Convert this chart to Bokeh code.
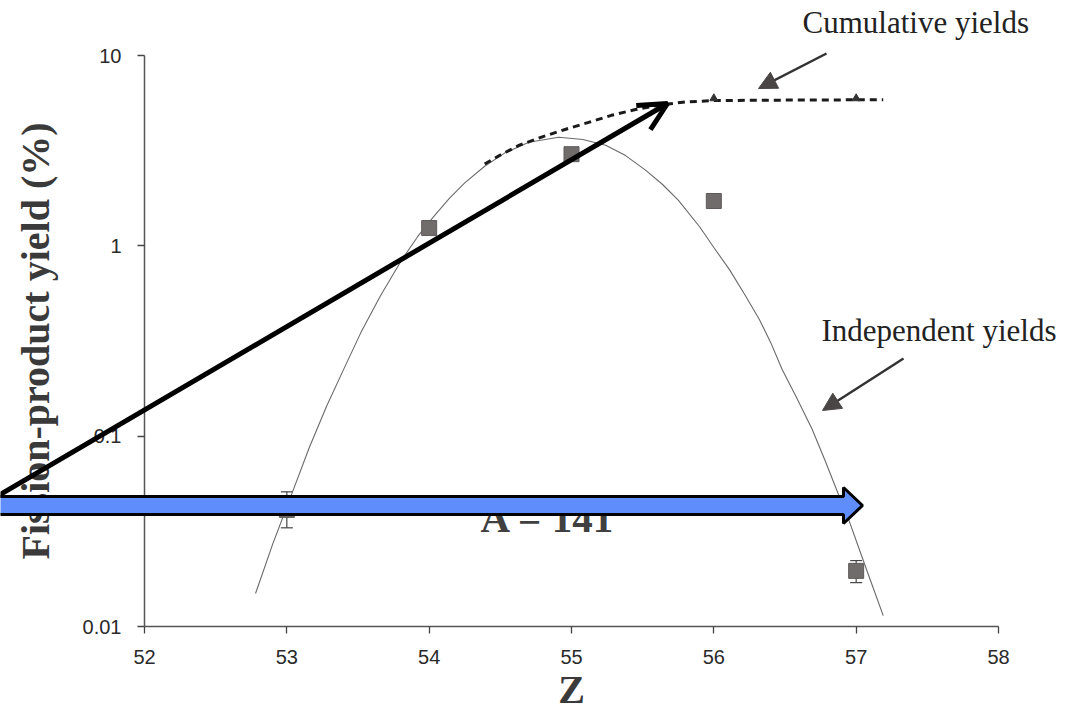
import math
from bokeh.plotting import figure
from bokeh.models import (FixedTicker, Whisker, ColumnDataSource, Arrow, OpenHead,
                          NormalHead, Label, PolyAnnotation, TeeHead)
from bokeh.embed import file_html
from bokeh.resources import INLINE

# ---- data ----
z_points = [53, 54, 55, 56, 57]
indep_yield = [0.041, 1.24, 3.03, 1.72, 0.0196]

err_z = [53, 57]
err_lo = [0.033, 0.0170]
err_hi = [0.051, 0.0222]

fit_z = [52.78, 52.9, 53.04, 53.16, 53.28, 53.4, 53.52, 53.66, 53.81, 53.92, 54.03, 54.14,
         54.25, 54.39, 54.53, 54.7, 54.91, 55.08, 55.24, 55.38, 55.52, 55.64, 55.75, 55.9,
         56.0, 56.11, 56.22, 56.32, 56.4, 56.48, 56.58, 56.69, 56.78, 56.88, 56.95, 57.02,
         57.1, 57.19]
fit_y = [0.0149, 0.027, 0.051, 0.088, 0.144, 0.225, 0.35, 0.55, 0.85, 1.12, 1.42, 1.77,
         2.14, 2.62, 3.07, 3.5, 3.72, 3.62, 3.38, 2.98, 2.5, 2.1, 1.74, 1.26,
         0.98, 0.75, 0.55, 0.41, 0.31, 0.224, 0.16, 0.109, 0.075, 0.0485, 0.036, 0.0257,
         0.0175, 0.0114]

cum_z = [54.39, 54.5, 54.63, 54.8, 54.96, 55.12, 55.28, 55.45, 55.62, 55.8, 56.0, 56.5, 57.0, 57.19]
cum_y = [2.69, 3.0, 3.37, 3.75, 4.1, 4.45, 4.85, 5.2, 5.5, 5.7, 5.8, 5.83, 5.85, 5.85]

cum_mark_z = [56, 57]
cum_mark_y = [5.95, 5.95]

x_ticks = [52, 53, 54, 55, 56, 57, 58]
y_ticks = [0.01, 0.1, 1, 10]
y_tick_labels = ["0.01", "0.1", "1", "10"]

# ---- layout: the frame covers the whole canvas so the overlay arrows are not clipped;
#      the axes are drawn at fixed data locations with bounds ----
W, H = 1074, 718
FX0, FX1 = 144, 998      # pixel columns of Z = 52 and Z = 58
FY0, FY1 = 55, 626       # pixel rows of 10 % and 0.01 %
xmin, xmax = x_ticks[0], x_ticks[-1]
ppx = (FX1 - FX0) / (xmax - xmin)
x_start = xmin - FX0 / ppx
x_end = xmax + (W - FX1) / ppx
ppd = (FY1 - FY0) / 3.0
y_end = 10 ** (1 + FY0 / ppd)
y_start = 10 ** (-2 - (H - FY1) / ppd)

p = figure(width=W, height=H, x_range=(x_start, x_end), y_range=(y_start, y_end),
           y_axis_type="log", output_backend="svg", toolbar_location=None,
           min_border=0, min_border_left=0, min_border_right=0, min_border_top=0,
           min_border_bottom=0)
p.outline_line_color = None
p.grid.visible = False
p.background_fill_color = "white"
p.border_fill_color = "white"

for ax in (p.xaxis[0], p.yaxis[0]):
    ax.axis_line_color = "#555555"
    ax.axis_line_width = 1.5
    ax.major_tick_line_color = "#444444"
    ax.major_tick_line_width = 1.3
    ax.major_tick_in = 0
    ax.major_tick_out = 7
    ax.minor_tick_line_color = None
    ax.major_label_text_font = "Liberation Sans"
    ax.major_label_text_font_size = "20px"
    ax.major_label_text_color = "#2a2a2a"
    ax.axis_label_text_font = "Liberation Serif"
    ax.axis_label_text_font_style = "bold"
    ax.axis_label_text_color = "#3a3a3a"

p.xaxis.fixed_location = y_ticks[0]
p.xaxis.bounds = (xmin, xmax)
p.xaxis.ticker = FixedTicker(ticks=x_ticks)
p.xaxis.major_label_standoff = 16
p.xaxis.axis_label = "Z"
p.xaxis.axis_label_text_font_size = "40px"
p.xaxis.axis_label_standoff = 0

p.yaxis.fixed_location = xmin
p.yaxis.bounds = (y_ticks[0], y_ticks[-1])
p.yaxis.ticker = FixedTicker(ticks=y_ticks)
p.yaxis.major_label_overrides = {t: l for t, l in zip(y_ticks, y_tick_labels)}
p.yaxis.major_label_standoff = 16
p.yaxis.axis_label = "Fission-product yield (%)"
p.yaxis.axis_label_text_font_size = "40px"
p.yaxis.axis_label_standoff = 22

# fitted independent-yield curve
p.line(fit_z, fit_y, line_color="#6a6a6a", line_width=1.1)

# cumulative yields (dashed)
p.line(cum_z, cum_y, line_color="#1a1a1a", line_width=3, line_dash="7 5")
p.scatter(cum_mark_z, cum_mark_y, marker="triangle", size=8, fill_color="#333333",
          line_color="#333333")

# error bars
err_src = ColumnDataSource(dict(z=err_z, lo=err_lo, hi=err_hi))
p.add_layout(Whisker(source=err_src, base="z", lower="lo", upper="hi",
                     line_color="#444444", line_width=1.2,
                     upper_head=TeeHead(size=12, line_color="#444444", line_width=1.2),
                     lower_head=TeeHead(size=12, line_color="#444444", line_width=1.2)))

# independent yield points
p.scatter(z_points, indep_yield, marker="square", size=15, fill_color="#716c6c",
          line_color="#5e5a5a", line_width=1)

# annotations
p.add_layout(Label(x=802, y=22, x_units="canvas", y_units="canvas",
                   text="Cumulative yields", text_font="Liberation Serif",
                   text_font_size="31px", text_color="#222222",
                   text_baseline="middle", text_align="left"))
p.add_layout(Arrow(x_start=826, y_start=53, x_end=758, y_end=88,
                   start_units="canvas", end_units="canvas",
                   line_color="#333333", line_width=2.5,
                   end=NormalHead(size=18, fill_color="#4a4646", line_color="#4a4646")))

p.add_layout(Label(x=821, y=330, x_units="canvas", y_units="canvas",
                   text="Independent yields", text_font="Liberation Serif",
                   text_font_size="31px", text_color="#222222",
                   text_baseline="middle", text_align="left"))
p.add_layout(Arrow(x_start=903, y_start=358, x_end=822, y_end=410,
                   start_units="canvas", end_units="canvas",
                   line_color="#333333", line_width=2.5,
                   end=NormalHead(size=18, fill_color="#4a4646", line_color="#4a4646")))

# black overlay arrow
p.add_layout(Arrow(x_start=-2, y_start=495, x_end=667, y_end=103,
                   start_units="canvas", end_units="canvas",
                   line_color="black", line_width=5,
                   end=OpenHead(size=28, line_color="black", line_width=5)))

# "A = 141" (partly hidden by the blue arrow)
p.add_layout(Label(x=480, y=517, x_units="canvas", y_units="canvas",
                   text="A = 141", text_font="Liberation Serif", text_font_style="bold",
                   text_font_size="41px", text_color="#404040",
                   text_baseline="alphabetic", text_align="left"))

# blue block arrow
p.add_layout(PolyAnnotation(xs=[-5, 843, 843, 862, 843, 843, -5],
                            ys=[496, 496, 487, 505, 523, 514, 514],
                            xs_units="canvas", ys_units="canvas",
                            fill_color="#5f8dfb", fill_alpha=1.0,
                            line_color="black", line_width=3, line_alpha=1.0))

open("out.html", "w").write(file_html(p, INLINE))
